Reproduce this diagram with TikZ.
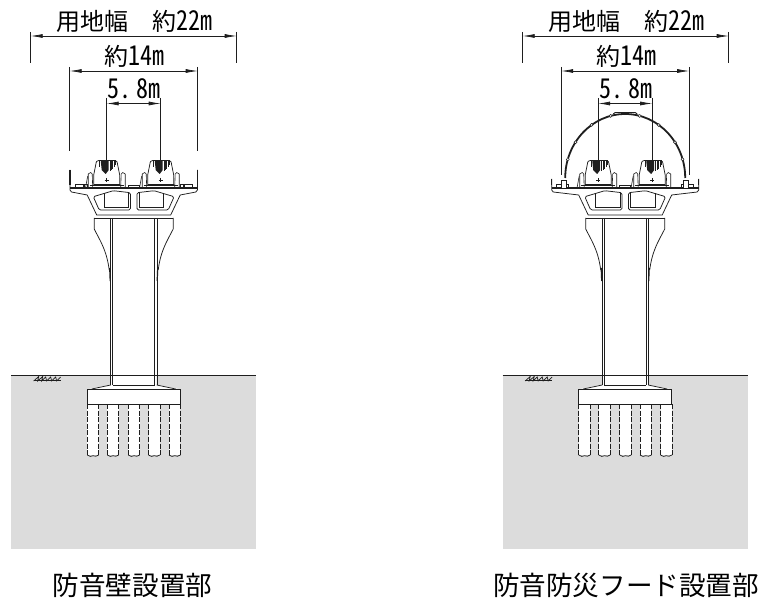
\documentclass[tikz,border=0pt]{standalone}
\usepackage{fontspec}
\setmainfont[RawFeature=+hwid]{Noto Sans CJK JP}
\usetikzlibrary{arrows.meta}
\definecolor{groundgray}{HTML}{DCDCDC}
\definecolor{inkc}{HTML}{1E1E1E}
\newcommand{\tl}[1]{\scalebox{1}[1.14]{#1}}
\tikzset{
  ln/.style={draw=inkc,line width=0.75pt},
  thinln/.style={draw=inkc,line width=0.6pt},
  dim/.style={draw=inkc,line width=0.7pt,{Latex[length=12pt,width=4pt]}-{Latex[length=12pt,width=4pt]}},
  ext/.style={draw=inkc,line width=0.7pt},
  dimtext/.style={inner sep=0pt,font=\fontsize{24}{24}\selectfont,text=black,anchor=center},
  captext/.style={inner sep=0pt,font=\fontsize{26.6}{27}\selectfont,text=black,anchor=center},
  dome/.style={draw=inkc,line width=1.8pt},
  knob/.style={draw=inkc,fill=white,line width=0.5pt}
}
\newcommand{\carunit}{%
  \draw[thinln,fill=white] (-18.5,187) -- (-18.5,174) -- (-16,172.5) -- (-14.5,174) -- (-14,187);
  \draw[thinln,fill=white] (18.5,187) -- (18.5,174) -- (16,172.5) -- (14.5,174) -- (14,187);
  \draw[thinln] (-21,187) -- (-19,176);
  \draw[ln,fill=white] (-13,184.5) -- (-13,175) -- (-11,165) .. controls (-10.5,161.5) and (-10,160.5) .. (-8,160.5)
     -- (8,160.5) .. controls (10,160.5) and (10.5,161.5) .. (11,165) -- (13,175) -- (13,184.5) -- cycle;
  \fill[inkc] (-6,160.5) -- (2,160.5) -- (2,170) -- (-1,174) -- (-5,170) -- cycle;
  \foreach \sx/\sy in {3.2/171,4.6/170,6/169,7.6/167,9/165}{\draw[inkc,line width=0.55pt] (\sx,160.5) -- (\sx,\sy);}
  \draw[inkc,line width=0.5pt] (-7.3,160.5) -- (-7.3,167);
  \draw[inkc,line width=0.45pt] (-2,180) -- (2,180) (0,178) -- (0,182);
  \draw[inkc,line width=0.9pt] (-17,185.5) -- (17,185.5);
}
\newcommand{\bridge}[2]{%
  \draw[ln,fill=white] (-#1,#2) -- (-#1,190) -- (-#1+1.5,192) -- (-46.5,195) -- (-37,215) -- (37,215) -- (46.5,195) -- (#1-1.5,192) -- (#1,190) -- (#1,#2);
  \draw[inkc,line width=1.1pt] (-#1,188) -- (#1,188);
  \draw[inkc,line width=1.1pt] (-#1,185) -- (-#1,#2) (#1,185) -- (#1,#2);
  \draw[thinln] (-#1+5,188) rectangle (-#1+13,184);
  \draw[thinln] (#1-5,188) rectangle (#1-13,184);
  \draw[thinln] (-#1+14,188) rectangle (-#1+17,184);
  \draw[thinln] (#1-14,188) rectangle (#1-17,184);
  \draw[thinln] (-5.5,188) rectangle (5.5,185);
  \foreach \m in {-1,1}{
    \begin{scope}[xscale=\m]
      \draw[ln,rounded corners=1.5pt] (3.3,192.7) -- (3.3,210) -- (34.5,210) -- (40.4,196.7) -- (20.4,190.7) -- cycle;
      \draw[thinln] (5.4,193.5) -- (5.4,207.3) -- (29.7,207.3) -- (29.7,193.5);
      \draw[ln] (39.5,218) -- (39.5,229) .. controls (34,240) and (27,250) .. (24.5,270);
      \draw[inkc,line width=1.2pt] (24,268) -- (23.5,281);
      \draw[ln] (21,218) -- (21,385);
      \draw[ln] (23.2,218) -- (23.2,385);
    \end{scope}
  }
  \draw[ln] (-39.5,218) -- (39.5,218);
}
\newcommand{\foundation}{%
  \fill[white] (-23,376) -- (23,376) -- (23,385) -- (46.7,389.3) -- (-46.7,389.3) -- (-23,385) -- cycle;
  \draw[ln] (-23,385) -- (-42,389) (23,385) -- (42,389);
  \draw[ln] (-21,385) -- (21,385);
  \foreach \p in {-46.4,-26.4,-5.4,14.8,35.3}{
    \fill[white] (\p,404) rectangle (\p+11.4,455);
    \draw[inkc,line width=0.65pt,dash pattern=on 5pt off 1.6pt] (\p,404) -- (\p,455);
    \draw[inkc,line width=0.65pt,dash pattern=on 5pt off 1.6pt] (\p+11.4,404) -- (\p+11.4,455);
    \draw[inkc,line width=0.75pt] (\p,455) .. controls (\p+2,457.5) and (\p+4,456) .. (\p+5.7,455.7) .. controls (\p+7.5,455.5) and (\p+9.5,457.5) .. (\p+11.4,455);
  }
  \draw[inkc,line width=0.9pt,fill=white] (-46.7,389.3) rectangle (46.7,404);
}
\newcommand{\groundpart}{%
  \fill[groundgray] (-122.7,375.5) rectangle (122.7,549);
  \draw[inkc,line width=0.7pt] (-122.7,375.5) -- (122.7,375.5);
  \begin{scope}[shift={(-100,0)}]
    \draw[inkc,line width=0.7pt] (0,381) -- (5,376.5) -- (4,381) -- (9,376.5) -- (8,381) -- (12,377) -- (13,381) -- (17,377) -- (18,381) -- (22,377) -- (23,381) -- (27,377);
    \draw[inkc,line width=0.9pt] (0,380.5) -- (27,380.5);
  \end{scope}
}
\begin{document}
\begin{tikzpicture}[x=1pt,y=-1pt]
\useasboundingbox (0,0) rectangle (760,601);
\fill[white] (0,0) rectangle (760,601);

\begin{scope}[shift={(133.7,0)}]
  \groundpart
  \foundation
  \bridge{63.7}{170}
  \begin{scope}[shift={(-27,0)}]\carunit\end{scope}
  \begin{scope}[shift={(27,0)}]\carunit\end{scope}
  \coordinate (la1) at (-103,36); \coordinate (la2) at (103,36);
  \coordinate (la1t) at (-103,32); \coordinate (la1b) at (-103,63);
  \coordinate (la2t) at (103,32); \coordinate (la2b) at (103,63);
  \coordinate (lb1) at (-64,71); \coordinate (lb2) at (64,71);
  \coordinate (lb1t) at (-64,67); \coordinate (lb1b) at (-64,151);
  \coordinate (lb2t) at (64,67); \coordinate (lb2b) at (64,151);
  \coordinate (lc1) at (-27,103.5); \coordinate (lc2) at (27,103.5);
  \coordinate (lc1t) at (-27,98); \coordinate (lc1b) at (-27,165);
  \coordinate (lc2t) at (27,98); \coordinate (lc2b) at (27,165);
\end{scope}
\draw[dim] (la1) -- (la2);
\draw[ext] (la1t) -- (la1b); \draw[ext] (la2t) -- (la2b);
\draw[dim] (lb1) -- (lb2);
\draw[ext] (lb1t) -- (lb1b); \draw[ext] (lb2t) -- (lb2b);
\draw[dim] (lc1) -- (lc2);
\draw[ext] (lc1t) -- (lc1b); \draw[ext] (lc2t) -- (lc2b);
\node[dimtext] (lt1) at (134,21) {用地幅\hspace{24pt}約\tl{22m}};
\node[dimtext] (lt2) at (134,56) {約\tl{14m}};
\node[dimtext] (lt3) at (134,89) {\spaceskip=0.5pt \tl{5. 8m}};
\node[captext] (lcap) at (132.5,585) {防音壁設置部};

\begin{scope}[shift={(625.2,0)}]
  \groundpart
  \foundation
  \bridge{73.5}{179}
  \begin{scope}[shift={(-27,0)}]\carunit\end{scope}
  \begin{scope}[shift={(27,0)}]\carunit\end{scope}
  \draw[dome] (-60,178) arc[start angle=180,end angle=360,x radius=60,y radius=64];
  \draw[thinln,fill=white] (-63.5,180) rectangle (-58.5,188);
  \draw[thinln,fill=white] (58.5,180) rectangle (63.5,188);
  \draw[inkc,line width=0.9pt] (-12,114) -- (-10,112.5) -- (10,112.5) -- (12,114);
  \foreach \a in {197,214,236,256,284,304,326,343}{
    \fill[knob] ({60*cos(\a)},{178+64*sin(\a)}) circle (1.5pt);
  }
  \coordinate (ra1) at (-102.5,36); \coordinate (ra2) at (103.5,36);
  \coordinate (ra1t) at (-102.5,32); \coordinate (ra1b) at (-102.5,63);
  \coordinate (ra2t) at (103.5,32); \coordinate (ra2b) at (103.5,63);
  \coordinate (rb1) at (-64,71); \coordinate (rb2) at (64,71);
  \coordinate (rb1t) at (-64,67); \coordinate (rb1b) at (-64,175);
  \coordinate (rb2t) at (64,67); \coordinate (rb2b) at (64,175);
  \coordinate (rc1) at (-27,103.5); \coordinate (rc2) at (27,103.5);
  \coordinate (rc1t) at (-27,98); \coordinate (rc1b) at (-27,165);
  \coordinate (rc2t) at (27,98); \coordinate (rc2b) at (27,165);
\end{scope}
\draw[dim] (ra1) -- (ra2);
\draw[ext] (ra1t) -- (ra1b); \draw[ext] (ra2t) -- (ra2b);
\draw[dim] (rb1) -- (rb2);
\draw[ext] (rb1t) -- (rb1b); \draw[ext] (rb2t) -- (rb2b);
\draw[dim] (rc1) -- (rc2);
\draw[ext] (rc1t) -- (rc1b); \draw[ext] (rc2t) -- (rc2b);
\node[dimtext] (rt1) at (626,21) {用地幅\hspace{24pt}約\tl{22m}};
\node[dimtext] (rt2) at (626,56) {約\tl{14m}};
\node[dimtext] (rt3) at (626,89) {\spaceskip=0.5pt \tl{5. 8m}};
\node[captext] (rcap) at (626,585) {防音防災フード設置部};
\end{tikzpicture}
\end{document}
